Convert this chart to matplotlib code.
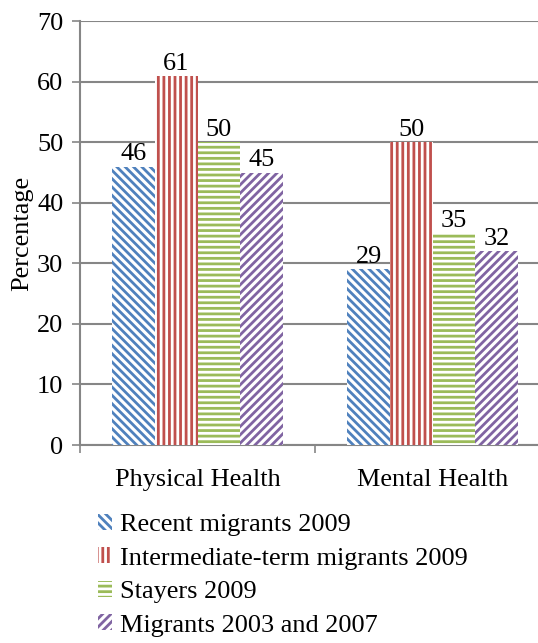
import matplotlib
matplotlib.use("Agg")
import matplotlib.pyplot as plt
import numpy as np

categories = ["Physical Health", "Mental Health"]
series_names = ["Recent migrants 2009", "Intermediate-term migrants 2009",
                "Stayers 2009", "Migrants 2003 and 2007"]
recent_2009 = [46, 29]
intermediate_2009 = [61, 50]
stayers_2009 = [50, 35]
migrants_2003_2007 = [45, 32]
series_values = [recent_2009, intermediate_2009, stayers_2009, migrants_2003_2007]
y_ticks = [0, 10, 20, 30, 40, 50, 60, 70]

colors = ["#4F81BD", "#C0504D", "#9BBB59", "#8064A2"]
hatches = ["\\\\\\\\", "|||", "---", "////"]

plt.rcParams["font.family"] = ["Liberation Serif", "DejaVu Serif"]
plt.rcParams["hatch.linewidth"] = 2.0
FS = 18.9

fig = plt.figure(figsize=(5.38, 6.43), dpi=100)
ax = fig.add_axes([80 / 538, 198 / 643, 470 / 538, (445 - 21.3) / 643])

centers = np.arange(len(categories)) + 0.5
bw = 0.181
offsets = (np.arange(4) - 1.5) * bw
for vals, off, col, h, name in zip(series_values, offsets, colors, hatches, series_names):
    bars = ax.bar(centers + off, vals, width=bw, facecolor="white",
                  edgecolor=col, hatch=h, linewidth=0, label=name, zorder=3)
    for b, v in zip(bars, vals):
        ax.text(b.get_x() + b.get_width() / 2, v + 0.2, f"{v}",
                ha="center", va="bottom", fontsize=FS, zorder=4)

ax.set_xlim(0, 2)
ax.set_ylim(0, 70)
ax.set_yticks(y_ticks)
ax.tick_params(axis="y", labelsize=FS, length=6, width=1.2, color="#868686",
               direction="out", pad=6)
ax.yaxis.grid(True, color="#868686", linewidth=1.5, zorder=0)
ax.set_axisbelow(True)

ax.set_xticks([0, 1, 2])
ax.set_xticklabels([])
ax.set_xticks(centers, minor=True)
ax.set_xticklabels(categories, minor=True, fontsize=FS)
ax.tick_params(axis="x", which="major", length=6, width=1.2, color="#868686",
               direction="out")
ax.tick_params(axis="x", which="minor", length=0, pad=17)

for side in ["top", "right"]:
    ax.spines[side].set_visible(False)
for side in ["left", "bottom"]:
    ax.spines[side].set_color("#868686")
    ax.spines[side].set_linewidth(1.5)

ax.set_ylabel("Percentage", fontsize=FS, labelpad=3)

handles, labels = ax.get_legend_handles_labels()
fig.legend(handles, labels, loc="upper left",
           bbox_to_anchor=(98 / 538, (643 - 514) / 643),
           frameon=False, fontsize=FS, borderpad=0, borderaxespad=0,
           handlelength=0.55, handleheight=0.55, handletextpad=0.3,
           labelspacing=0.43)

fig.savefig("out.png", dpi=100)
